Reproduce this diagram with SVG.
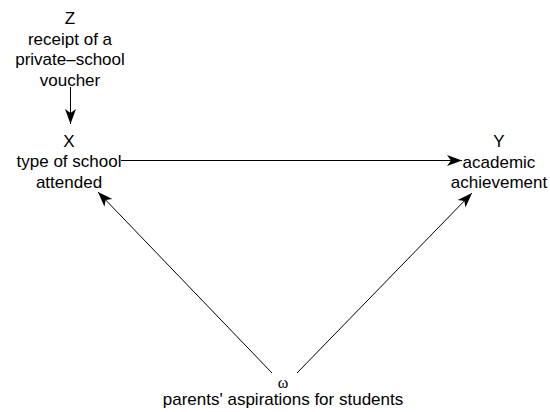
<svg xmlns="http://www.w3.org/2000/svg" width="550" height="412" viewBox="0 0 550 412">
  <style>
    .lbl { font-family: "Liberation Sans", Arial, sans-serif; font-size: 17px; fill: #000; text-anchor: middle; }
    .greek { font-family: "Liberation Serif", "Times New Roman", serif; font-size: 16px; fill: #000; text-anchor: middle; }
    .edge { stroke: #000; stroke-width: 1; fill: none; marker-end: url(#head); }
  </style>
  <defs>
    <marker id="head" viewBox="-16 -7 17 14" refX="0" refY="0" markerWidth="17" markerHeight="14" markerUnits="userSpaceOnUse" orient="auto">
      <path d="M0,0 L-15,-5.5 L-11,0 L-15,5.5 Z" fill="#000"/>
    </marker>
  </defs>
  <rect width="550" height="412" fill="#fff"/>

  <g id="edges">
    <line class="edge" x1="70.5" y1="87" x2="70.5" y2="124"/>
    <line class="edge" x1="121" y1="160.5" x2="462" y2="160.5"/>
    <line class="edge" x1="272" y1="373" x2="98" y2="192"/>
    <line class="edge" x1="297" y1="373" x2="472" y2="193"/>
  </g>

  <g id="Z">
    <text class="lbl" x="70" y="24">Z</text>
    <text class="lbl" x="70" y="45">receipt of a</text>
    <text class="lbl" x="70" y="65">private–school</text>
    <text class="lbl" x="70" y="86">voucher</text>
  </g>

  <g id="X">
    <text class="lbl" x="69" y="147">X</text>
    <text class="lbl" x="69" y="167">type of school</text>
    <text class="lbl" x="69" y="188">attended</text>
  </g>

  <g id="Y">
    <text class="lbl" x="499" y="147">Y</text>
    <text class="lbl" x="499" y="168">academic</text>
    <text class="lbl" x="499" y="188">achievement</text>
  </g>

  <g id="omega">
    <text class="greek" x="283" y="388">ω</text>
    <text class="lbl" x="283" y="405">parents' aspirations for students</text>
  </g>
</svg>
